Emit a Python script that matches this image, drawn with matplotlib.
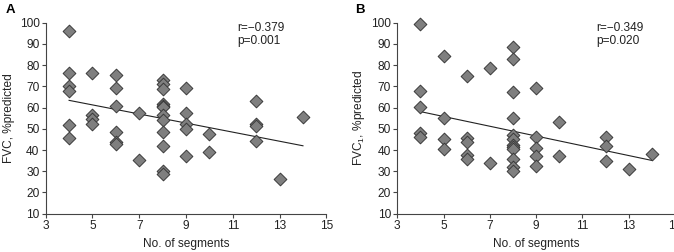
import matplotlib
matplotlib.use("Agg")
import matplotlib.pyplot as plt
import numpy as np

plt.rcParams['font.family'] = ['Liberation Sans', 'DejaVu Sans']
plt.rcParams['mathtext.fontset'] = 'custom'
plt.rcParams['mathtext.rm'] = 'Liberation Sans'
plt.rcParams['mathtext.it'] = 'Liberation Sans'

# Panel A: FVC vs number of segments
a_x = [4, 4, 4, 4, 4, 4,
       5, 5, 5, 5,
       6, 6, 6, 6, 6, 6,
       7, 7,
       8, 8, 8, 8, 8, 8, 8, 8, 8, 8, 8, 8,
       9, 9, 9, 9, 9,
       10, 10,
       12, 12, 12, 12,
       13, 14]
a_y = [96.1, 76.3, 70.2, 68.0, 51.9, 45.5,
       76.3, 56.3, 54.8, 52.2,
       75.3, 69.1, 60.9, 48.3, 43.9, 43.0,
       57.3, 35.4,
       73.1, 71.3, 68.6, 61.8, 60.7, 60.1, 56.6, 54.1, 48.3, 42.0, 30.0, 28.9,
       69.2, 57.4, 52.3, 49.7, 37.3,
       47.4, 39.1,
       63.2, 52.1, 51.2, 44.2,
       26.3, 55.4]
a_fit = [63.4, 42.0]  # fitted line values at x=4 and x=14

# Panel B: FVC1 vs number of segments
b_x = [4, 4, 4, 4, 4,
       5, 5, 5, 5,
       6, 6, 6, 6, 6,
       7, 7,
       8, 8, 8, 8, 8, 8, 8, 8, 8, 8, 8, 8,
       9, 9, 9, 9, 9,
       10, 10,
       12, 12, 12,
       13, 14]
b_y = [99.6, 68.0, 60.4, 48.2, 46.3,
       84.1, 55.2, 45.3, 40.7,
       74.9, 45.5, 43.6, 37.5, 35.9,
       78.5, 33.9,
       88.5, 83.0, 67.5, 55.1, 47.1, 45.0, 42.2, 41.4, 40.7, 35.9, 32.1, 30.0,
       69.4, 46.1, 40.9, 37.2, 32.6,
       53.4, 37.2,
       46.1, 41.9, 34.8,
       30.9, 38.3]
b_fit = [58.1, 35.1]
fit_x = [4, 14]

x_ticks = [3, 5, 7, 9, 11, 13, 15]
y_ticks = [10, 20, 30, 40, 50, 60, 70, 80, 90, 100]

fig = plt.figure(figsize=(6.74, 2.52), dpi=100)
axA = fig.add_axes([0.0678, 0.152, 0.4164, 0.758])
axB = fig.add_axes([0.5895, 0.152, 0.4119, 0.758])

panels = [
    (axA, a_x, a_y, a_fit, "FVC, %predicted", "r=\u22120.379\np=0.001", 11.18, "A"),
    (axB, b_x, b_y, b_fit, "FVC$_1$, %predicted", "r=\u22120.349\np=0.020", 11.58, "B"),
]

fs = 8.6
for ax, xs, ys, fit, ylab, stat, tx, letter in panels:
    ax.scatter(xs, ys, marker='D', s=42, facecolor='#7f7f7f', edgecolor='#3a3a3a',
               linewidths=0.7, zorder=3, clip_on=False)
    ax.plot(fit_x, fit, color='#222222', lw=0.8, zorder=2)
    ax.set_xlim(3, 15)
    ax.set_ylim(10, 100)
    ax.set_xticks(x_ticks)
    ax.set_yticks(y_ticks)
    for s in ['top', 'right']:
        ax.spines[s].set_visible(False)
    for s in ['left', 'bottom']:
        ax.spines[s].set_color('#444444')
        ax.spines[s].set_linewidth(0.8)
    ax.tick_params(direction='out', length=3, width=0.8, color='#444444',
                   labelsize=fs, pad=1.5, labelcolor='#222222')
    ax.set_xlabel("No. of segments", fontsize=fs, labelpad=4, color='#222222')
    ax.set_ylabel(ylab, fontsize=fs, labelpad=3, color='#222222')
    ax.text(tx, 100.5, stat, fontsize=fs, va='top', ha='left', color='#222222',
            linespacing=1.1)

fig.text(0.008, 0.985, "A", fontsize=9.5, fontweight='bold', va='top', ha='left')
fig.text(0.527, 0.985, "B", fontsize=9.5, fontweight='bold', va='top', ha='left')

fig.savefig("out.png", dpi=100)
